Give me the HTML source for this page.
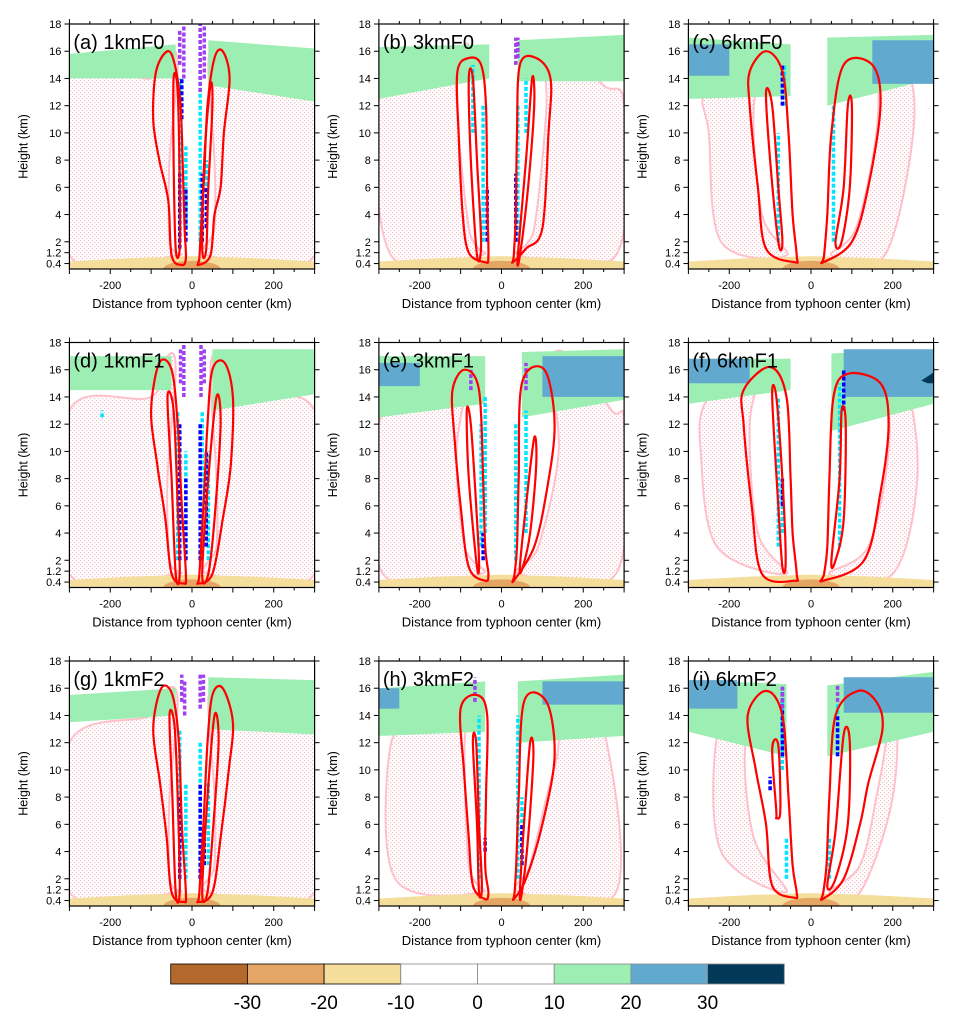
<!DOCTYPE html>
<html><head><meta charset="utf-8">
<style>
html,body{margin:0;padding:0;background:#fff;}
svg{display:block;font-family:"Liberation Sans",sans-serif;}
</style></head>
<body>
<svg id="fig" width="959" height="1025" viewBox="0 0 959 1025" xmlns="http://www.w3.org/2000/svg">
<defs>
<pattern id="dots" width="4" height="4" patternUnits="userSpaceOnUse">
<rect width="4" height="4" fill="#fff"/>
<rect x="0" y="0" width="1.2" height="1.2" fill="#f7bccb"/>
<rect x="2" y="2" width="1.2" height="1.2" fill="#f7bccb"/>
</pattern>
</defs>
<g id="panels"></g>
<g id="cbar"></g>
</svg>
<script>
// ---- data ----
const panelLabels = ["(a) 1kmF0","(b) 3kmF0","(c) 6kmF0","(d) 1kmF1","(e) 3kmF1","(f) 6kmF1","(g) 1kmF2","(h) 3kmF2","(i) 6kmF2"];
// green band: [x0, x1, zBottom@x0, zBottom@x1, zTop@x0, zTop@x1]
const greenLeft  = [[-300,-40,14,14,15.8,16.5],[-300,-30,12.5,14,16.3,16.5],[-300,-50,12.5,12.7,17,16.5],
                    [-300,-50,14.5,14.5,17,17],[-300,-40,12.5,13.5,17,17],[-300,-50,13.5,14.5,16.8,16.8],
                    [-300,-40,13.5,14,15.5,16],[-300,-40,12.5,12.8,16,16.5],[-300,-60,12.8,11,16.6,16.3]];
const greenRight = [[40,300,13.5,12.3,16.8,16.2],[40,300,13.8,13.8,16.8,17.2],[40,300,12,14,17,17.2],
                    [50,300,13,14.2,17.5,17.5],[50,300,12.5,13.8,17.3,17.5],[50,300,11.5,13.5,17.2,17.5],
                    [40,300,13,12.6,16.8,16.6],[40,300,12,12.5,16.5,17],[40,300,11,12.8,16.2,17.2]];
// blue band: [x0, x1, zBottom, zTop] (null = none)
const blueLeft  = [null,null,[-300,-200,14.2,16.5],null,[-300,-200,14.8,16.5],[-300,-150,15,16.8],null,[-300,-250,14.5,16],[-300,-180,14.5,16.6]];
const blueRight = [null,null,[150,300,13.6,16.8],null,[100,300,14,17],[80,300,14,17.5],null,[100,300,14.8,16.5],[80,300,14.2,16.8]];
// red outer contour loops [x km, z km]
const redLeft = [
 [[-25,0.3],[-50,1],[-58,5],[-80,8],[-95,11],[-88,14.5],[-60,16],[-42,15],[-28,12],[-22,7],[-18,3],[-15,0.8]],
 [[-40,0.5],[-80,1.2],[-95,4],[-105,10],[-108,14.5],[-80,15.5],[-50,15],[-38,12],[-35,5],[-32,1]],
 [[-40,0.5],[-110,1.5],[-130,6],[-150,12],[-150,14.5],[-110,16],[-70,14.5],[-55,10],[-45,4],[-35,1]],
 [[-20,0.3],[-50,1],[-65,5],[-85,9],[-100,13],[-80,16.5],[-50,16],[-35,12],[-25,6],[-15,1]],
 [[-40,0.5],[-80,1.5],[-100,6],[-115,11],[-120,14.5],[-90,16],[-55,14.5],[-45,8],[-40,3],[-32,1]],
 [[-40,0.5],[-120,1],[-145,6],[-165,12],[-165,14.5],[-100,16.2],[-60,14],[-50,8],[-45,4],[-35,1]],
 [[-20,0.3],[-50,1],[-62,5],[-78,9],[-95,13],[-75,16],[-48,15.5],[-32,12],[-25,6],[-15,1]],
 [[-40,0.5],[-70,1.5],[-80,5],[-92,10],[-100,14.5],[-60,15.5],[-35,14],[-38,8],[-40,3],[-32,1]],
 [[-40,0.6],[-95,1.5],[-110,6],[-135,10],[-155,14],[-110,15.8],[-70,14],[-55,8],[-45,3],[-35,1]]
];
const redRight = [
 [[15,0.3],[45,1],[55,4],[70,6],[78,10],[92,14],[75,16],[55,15.5],[38,12],[30,7],[22,3],[18,0.8]],
 [[28,0.5],[60,1.5],[100,3],[115,10],[120,14],[85,15.5],[45,15],[38,10],[35,4],[30,1]],
 [[30,0.5],[100,2],[140,6],[170,12],[150,15],[80,15],[50,10],[40,4],[32,1]],
 [[15,0.3],[50,1],[75,5],[95,9],[100,14],[80,16.5],[50,16],[38,12],[28,6],[18,1]],
 [[30,0.5],[80,3],[110,7],[130,12],[105,16],[50,15],[42,8],[38,3],[32,1]],
 [[30,0.5],[130,2],[170,7],[190,12],[170,15],[90,15.7],[55,14],[45,8],[40,3],[32,1]],
 [[15,0.3],[50,1],[70,5],[90,10],[100,13.5],[75,16],[50,15.5],[38,12],[28,6],[18,1]],
 [[30,0.5],[60,2],[100,6],[130,11],[110,15],[55,15],[42,8],[36,3],[32,1]],
 [[28,0.5],[80,2],[120,6],[140,9],[175,13],[160,15],[115,15.8],[60,14],[45,8],[38,3],[30,1]]
];
// inner red loops
const redInner = [
 [[[-40,1.5],[-45,8],[-45,14],[-35,13],[-30,6],[-30,1.5]],[[25,1.5],[30,8],[45,13.5],[50,12],[40,6],[35,1.5]]],
 [[[-60,1],[-75,8],[-80,14],[-70,14],[-60,8],[-50,2]],[[40,1],[60,8],[75,14],[80,12],[65,6],[45,1]]],
 [[[-80,2],[-100,8],[-110,13],[-95,12],[-80,6],[-70,2]],[[60,2],[80,6],[90,12],[100,12],[95,6],[75,2]]],
 [[[-40,1],[-50,8],[-60,14],[-45,13],[-35,6],[-30,1]],[[25,1],[40,8],[60,14],[70,12],[55,5],[40,1]]],
 [[[-60,1.5],[-80,8],[-85,13],[-75,12],[-62,6],[-55,2]],[[45,1.5],[60,6],[80,11],[85,9],[70,4],[52,1.5]]],
 [[[-70,1.5],[-80,6],[-95,14],[-85,14],[-70,8],[-62,2]],[[50,2],[70,8],[75,13],[85,12],[80,5],[60,2]]],
 [[[-40,1],[-48,8],[-55,14],[-42,13],[-33,6],[-30,1]],[[25,1],[38,8],[55,14],[65,12],[50,5],[38,1]]],
 [[[-55,1],[-60,6],[-70,12],[-62,12],[-55,6],[-48,1.5]],[[45,1],[55,6],[70,12],[78,11],[65,5],[50,1]]],
 [[[-85,7],[-95,11.5],[-80,11.8],[-75,7],[-85,6.5]],[[40,1.5],[60,5.5],[80,12.6],[95,12],[90,6],[60,2]]]
];
// pink stippled region [left polygon, right polygon]
const pinkLeft = [
 [[-300,1],[-300,14],[-100,14],[-60,16],[-35,15],[-55,8],[-55,2],[-40,1]],
 [[-270,1],[-300,12.5],[-180,13.5],[-110,16],[-80,16.3],[-110,13],[-80,3],[-50,1]],
 [[-220,2],[-250,10],[-260,13],[-160,16],[-100,16],[-140,12],[-120,4],[-60,1]],
 [[-300,1],[-300,13],[-100,14],[-60,17],[-40,16],[-60,8],[-55,2],[-40,1]],
 [[-290,1],[-300,12],[-200,14],[-120,16.5],[-80,16],[-110,10],[-90,3],[-50,1]],
 [[-230,3],[-270,10],[-260,13.5],[-180,16],[-120,16.4],[-150,12],[-130,4],[-60,1]],
 [[-300,1],[-300,12],[-100,14],[-60,16],[-35,15],[-55,8],[-55,2],[-40,1]],
 [[-260,2],[-270,12],[-180,13],[-110,15.5],[-70,16],[-90,12],[-80,3],[-50,1]],
 [[-220,4],[-230,12.5],[-160,15],[-100,16.3],[-160,12],[-140,5],[-60,1]]
];
const pinkRight = [
 [[40,1],[55,3],[55,8],[40,15],[60,16],[100,14],[300,14],[300,1]],
 [[45,1],[80,3],[110,12],[100,16.2],[140,16.5],[250,13.5],[300,12],[280,1]],
 [[50,1],[110,3],[160,10],[160,15.5],[120,16.5],[230,15],[250,10],[180,1]],
 [[40,1],[60,3],[60,8],[45,16],[70,17],[110,14],[300,13],[300,1]],
 [[45,1],[90,3],[140,10],[120,16.5],[170,17],[270,13],[300,12],[280,1]],
 [[45,1],[140,3],[190,10],[180,15.5],[140,16.5],[230,15],[260,8],[200,1]],
 [[40,1],[55,3],[55,8],[40,15],[60,16],[100,14],[300,13],[300,1]],
 [[45,1],[70,3],[110,8],[140,12],[120,16],[160,16],[250,13],[280,1]],
 [[45,1],[120,3],[160,8],[185,13],[160,16],[100,16.3],[200,15],[200,8],[120,1]]
];
// dashed vertical features [x, z0, z1]
const purpleLines = [
 [[-20,14,18],[-30,15,17.5],[20,13,18],[30,14,18]],[[35,15,17],[40,15.5,17]],[[-300,0,0]],
 [[-20,14,18],[-28,15,17.5],[22,14,18],[30,15,17.5]],[[60,14.5,16.5],[-75,14.5,16]],[[-300,0,0]],
 [[-25,15,17],[-18,14,16.5],[20,14.5,17],[28,15,17]],[[-65,15,16.8]],[[-70,14.5,16.2],[65,15,16.2]]
];
const cyanLines = [
 [[-30,2,14],[-15,3,9],[20,2,14],[35,3,8]],[[-45,2,12],[40,2,12],[-70,10,15],[60,10,14]],[[-80,2,10],[55,2,12],[-65,12,15]],
 [[-35,2,13],[-15,2,10],[25,2,13],[40,2,10],[-220,12.5,13]],[[-50,3,12],[-40,4,14],[35,2,12],[60,4,13]],[[-80,3,14],[70,3,15],[-70,4,8]],
 [[-30,2,13],[-15,2,9],[20,2,12],[40,3,9]],[[-55,2,14],[40,2,14],[50,3,8]],[[-70,10,15],[65,11,15],[-60,2,5],[45,2,5]]
];
const blueLines = [
 [[-30,1.5,7],[-25,11,14],[-15,2,6],[25,2,7],[35,3,6]],[[-35,2,6],[35,2,7]],[[-70,12,15]],
 [[-30,2,12],[-15,2,8],[20,2,12],[35,3,10]],[[-45,2,4]],[[80,13,16],[-70,6,8]],
 [[-30,2,8],[20,2,9],[30,3,6]],[[50,3,6],[-40,4,5]],[[-70,11,16],[65,11,14],[-100,8.5,9.5]]
];
const xTickLabels = [-200,0,200];
const zTickVals = [0.4,1.2,2,4,6,8,10,12,14,16,18];
const zTickLabels = ["0.4","1.2","2","4","6","8","10","12","14","16","18"];
const cbarColors = ["#b3692b","#e3a665","#f5dd9c","#ffffff","#ffffff","#9deeb2","#62a9cf","#023858"];
const cbarLabels = ["-30","-20","-10","0","10","20","30"];

// ---- drawing ----
const NS="http://www.w3.org/2000/svg";
const root=document.getElementById('panels');
function mk(tag,attrs,parent){const e=document.createElementNS(NS,tag);for(const k in attrs)e.setAttribute(k,attrs[k]);parent.appendChild(e);return e;}
const W=245.2,H=245,X0=69.4,Y0=24,DX=309.5,DY=318.5;
function smooth(P){ // closed Catmull-Rom
 const n=P.length;let d='M'+P[0][0].toFixed(1)+','+P[0][1].toFixed(1);
 for(let k=0;k<n;k++){
  const p0=P[(k-1+n)%n],p1=P[k],p2=P[(k+1)%n],p3=P[(k+2)%n];
  const c1=[p1[0]+(p2[0]-p0[0])/6,p1[1]+(p2[1]-p0[1])/6];
  const c2=[p2[0]-(p3[0]-p1[0])/6,p2[1]-(p3[1]-p1[1])/6];
  d+=` C${c1[0].toFixed(1)},${c1[1].toFixed(1)} ${c2[0].toFixed(1)},${c2[1].toFixed(1)} ${p2[0].toFixed(1)},${p2[1].toFixed(1)}`;
 }
 return d+'Z';
}

panelLabels.forEach((lab,i)=>{
 const col=i%3,row=Math.floor(i/3);
 const L=X0+col*DX,T=Y0+row*DY;
 const sx=x=>L+(x+300)/600*W;
 const sz=z=>T+H*(1-z/18);
 const g=mk('g',{},root);
 
 
 const clipId='clip'+i;
 const cp=mk('clipPath',{id:clipId},g);mk('rect',{x:L,y:T,width:W,height:H},cp);
 const plot=mk('g',{'clip-path':'url(#'+clipId+')'},g);
 const pts=a=>a.map(p=>sx(p[0]).toFixed(1)+','+sz(p[1]).toFixed(1)).join(' ');
 const pxs=a=>a.map(p=>[sx(p[0]),sz(p[1])]);
 // pink stipple
 [pinkLeft[i],pinkRight[i]].forEach(p=>{
   const e=mk('path',{d:smooth(pxs(p)),fill:'url(#dots)',stroke:'#ffc0cb','stroke-width':2},plot);
   
   
 });
 // green bands
 [greenLeft[i],greenRight[i]].forEach(b=>{
   const p=[[b[0],b[2]],[b[1],b[3]],[b[1],b[5]],[b[0],b[4]]];
   const e=mk('polygon',{points:pts(p),fill:'#9deeb2'},plot);
   
   
 });
 [blueLeft[i],blueRight[i]].forEach(b=>{
   if(!b)return;
   const p=[[b[0],b[2]],[b[1],b[2]],[b[1],b[3]],[b[0],b[3]]];
   const e=mk('polygon',{points:pts(p),fill:'#62a9cf'},plot);
   
   
 });
 if(i===5){const e=mk('polygon',{points:pts([[270,15.2],[300,15.8],[300,15],[285,15]]),fill:'#023858'},plot);
   }
 // tan bottom
 const tan=mk('polygon',{points:pts([[-300,0],[-300,0.55],[-150,0.8],[0,0.95],[150,0.8],[300,0.55],[300,0]]),fill:'#f5dd9c'},plot);
 
 
 const br=mk('ellipse',{cx:sx(0),cy:sz(0),rx:(sx(70)-sx(0)),ry:(sz(0)-sz(0.6)),fill:'#e3a665'},plot);
 
 
 // dashed lines
 const dl=(arr,color,name,w)=>arr.forEach(s=>{const e=mk('line',{x1:sx(s[0]),x2:sx(s[0]),y1:sz(s[1]),y2:sz(s[2]),stroke:color,'stroke-width':w,'stroke-dasharray':'4 2'},plot);
   });
 dl(cyanLines[i],'#00e5ff','cyan-contour',3.5);
 dl(blueLines[i],'#0000ff','blue-contour',3.5);
 dl(purpleLines[i],'#a040f0','purple-contour',3.5);
 // red loops
 [redLeft[i],redRight[i],redInner[i][0],redInner[i][1]].forEach(p=>{
   const e=mk('path',{d:smooth(pxs(p)),fill:'none',stroke:'#ff0000','stroke-width':2.2,'stroke-linejoin':'round'},plot);
   
   
 });
 // frame
 mk('rect',{x:L,y:T,width:W,height:H,fill:'none',stroke:'#000','stroke-width':1.2},g);
 // x ticks
 for(let x=-300;x<=300;x+=50){
   const len=(x%100===0)?5:3;
   mk('line',{x1:sx(x),x2:sx(x),y1:T+H,y2:T+H+len,stroke:'#000'},g);
   mk('line',{x1:sx(x),x2:sx(x),y1:T,y2:T-len,stroke:'#000'},g);
 }
 xTickLabels.forEach(v=>{const t=mk('text',{x:sx(v),y:T+H+20,'font-size':11,'text-anchor':'middle',fill:'#000'},g);t.textContent=v;
   });
 zTickVals.forEach((z,k)=>{
   mk('line',{x1:L-5,x2:L,y1:sz(z),y2:sz(z),stroke:'#000'},g);
   mk('line',{x1:L+W,x2:L+W+5,y1:sz(z),y2:sz(z),stroke:'#000'},g);
   const t=mk('text',{x:L-8,y:sz(z)+4,'font-size':11,'text-anchor':'end',fill:'#000'},g);t.textContent=zTickLabels[k];
   
 });
 const yt=mk('text',{x:0,y:0,'font-size':12.5,'text-anchor':'middle',fill:'#000',transform:`translate(${L-42},${T+H/2}) rotate(-90)`},g);
 yt.textContent='Height (km)';
 
 const xt=mk('text',{x:L+W/2,y:T+H+39,'font-size':13,'text-anchor':'middle',fill:'#000'},g);
 xt.textContent='Distance from typhoon center (km)';
 
 const pt=mk('text',{x:L+4,y:T+25,'font-size':20,fill:'#000'},g);
 pt.textContent=lab;
 
});

// colorbar
const cb=document.getElementById('cbar');
const CL=170.7,CT=964,CW=76.7,CH=20;
cbarColors.forEach((c,k)=>{
 const r=mk('rect',{x:CL+k*CW,y:CT,width:CW,height:CH,fill:c,stroke:k<3?'#000':'#888','stroke-width':0.8},cb);
 
});
cbarLabels.forEach((s,k)=>{
 const t=mk('text',{x:CL+(k+1)*CW,y:CT+45,'font-size':19,'text-anchor':'middle',fill:'#000'},cb);
 t.textContent=s;
 
});
</script>
</body></html>
